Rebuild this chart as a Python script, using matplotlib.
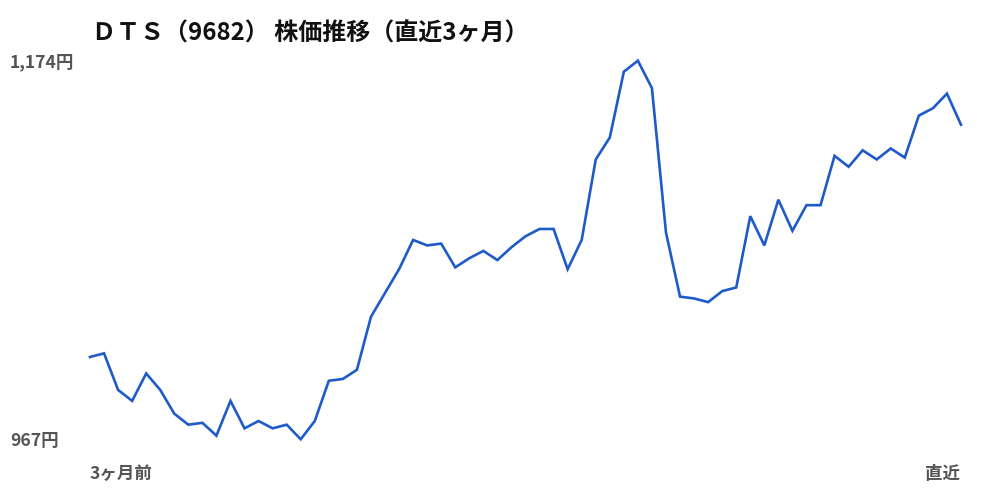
import matplotlib
matplotlib.use("Agg")
import matplotlib.pyplot as plt

plt.rcParams['font.family'] = ['Noto Sans CJK JP', 'DejaVu Sans']

title = "ＤＴＳ（9682） 株価推移（直近3ヶ月）"
y_max_label = "1,174円"
y_min_label = "967円"
x_start_label = "3ヶ月前"
x_end_label = "直近"
y_min = 967
y_max = 1174

prices = [1012, 1014, 994, 988, 1003, 994, 981, 975, 976, 969,
          988, 973, 977, 973, 975, 967, 977, 999, 1000, 1005,
          1034, 1047, 1060, 1076, 1073, 1074, 1061, 1066, 1070, 1065,
          1072, 1078, 1082, 1082, 1060, 1076, 1120, 1132, 1168, 1174,
          1159, 1080, 1045, 1044, 1042, 1048, 1050, 1089, 1073, 1098,
          1081, 1095, 1095, 1122, 1116, 1125, 1120, 1126, 1121, 1144,
          1148, 1156, 1139]
days = list(range(len(prices)))

fig = plt.figure(figsize=(10, 5), dpi=100)
ax = fig.add_axes([0.09, 1 - 439.3 / 500, 0.871, (439.3 - 60.7) / 500])
ax.plot(days, prices, color='#1f5bc8', linewidth=1.9, clip_on=False,
        solid_joinstyle='miter')
ax.set_xlim(0, len(prices) - 1)
ax.set_ylim(y_min, y_max)
ax.axis('off')

grey = '#555555'
lf = 12.6
fig.text(0.010, 1 - 62 / 500, y_max_label, color=grey, fontsize=lf,
         fontweight='bold', ha='left', va='center')
fig.text(0.010, 1 - 441 / 500, y_min_label, color=grey, fontsize=lf,
         fontweight='bold', ha='left', va='center')
fig.text(0.090, 1 - 474 / 500, x_start_label, color=grey, fontsize=lf,
         fontweight='bold', ha='left', va='center')
fig.text(0.960, 1 - 474 / 500, x_end_label, color=grey, fontsize=lf,
         fontweight='bold', ha='right', va='center')
fig.text(0.092, 1 - 34 / 500, title, color='#111111', fontsize=17.3,
         fontweight='bold', ha='left', va='center')

fig.savefig('out.png', dpi=100, facecolor='white')
